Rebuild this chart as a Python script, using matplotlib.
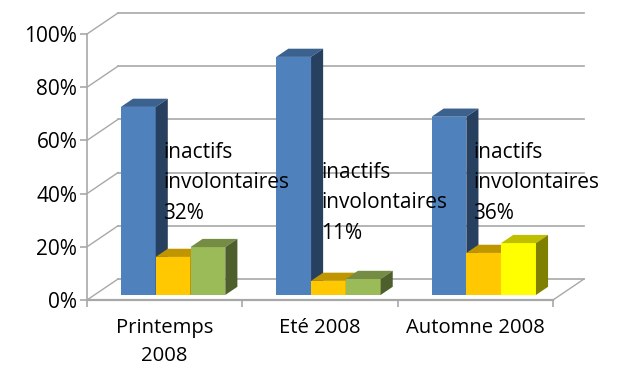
import matplotlib
matplotlib.use("Agg")
import matplotlib.pyplot as plt
import numpy as np

plt.rcParams['font.family'] = ['Open Sans', 'DejaVu Sans']

# Values
categories = ["Printemps\n2008", "Eté 2008", "Automne 2008"]
series_a = [70.7, 89.5, 67]
series_b = [14.3, 5.3, 15.8]
series_c = [18, 6, 19.5]
labels = ["inactifs\ninvolontaires\n32%", "inactifs\ninvolontaires\n11%", "inactifs\ninvolontaires\n36%"]
y_ticks = [0, 20, 40, 60, 80, 100]

# Faces: front, top, side
blue = ("#4F81BD", "#3B618E", "#28405F")
orange = ("#FFC800", "#BF9600", "#806400")
green = ("#9BBB59", "#748C43", "#4E5E2C")
yellow = ("#FFFF00", "#BFBF00", "#808000")
grid = "#A8A8A8"

W, H = 620, 369
fig = plt.figure(figsize=(W/100, H/100), dpi=100, facecolor="white")
# Axes cover the front plane of the fake 3D box
ax = fig.add_axes([87/W, 1-300/H, 466/W, 266/H])
ax.set_xlim(0, 3)
ax.set_ylim(0, 100)

# Depth of the box, in data units (31px right, 21px up)
depth_x = 31/(466/3)
depth_y = 21/(266/100)

def shift(x, y, d):
    return x + d*depth_x, y + d*depth_y

# Back wall, side wall and floor
for v in y_ticks:
    bx0, by0 = shift(0, v, 1)
    bx1, by1 = shift(3, v, 1)
    ax.plot([bx0, bx1], [by0, by1], color=grid, lw=1.2, clip_on=False, zorder=1)
    ax.plot([0, bx0], [v, by0], color=grid, lw=1, clip_on=False, zorder=1)
ax.plot([3, shift(3, 0, 1)[0]], [0, shift(3, 0, 1)[1]], color=grid, lw=1, clip_on=False, zorder=1)

def bar3d(x, v, width, faces, z):
    # front face sits a bit into the box, then top and side go further back
    d0, d1 = 0.24, 0.63
    x0, y0 = shift(x, 0, d0)
    ytop = shift(x, v, d0)[1]
    ax.bar(x0, ytop-y0, width, bottom=y0, align='edge', color=faces[0], lw=0, zorder=z, clip_on=False)
    xa, ya = shift(x, v, d1)
    xb, yb = shift(x + width, 0, d1)
    xf = x0 + width
    ax.fill([x0, xf, xa+width, xa], [ytop, ytop, ya, ya], color=faces[1], lw=0, zorder=z, clip_on=False)
    ax.fill([xf, xb, xb, xf], [y0, yb, ya, ytop], color=faces[2], lw=0, zorder=z, clip_on=False)

bar_w = 34.8/(466/3)
nudge = 1/(466/3)
colors_b = [green, green, yellow]
z = 3
for i in range(len(categories)):
    start = i + 0.5 - 1.5*bar_w + nudge
    bar3d(start, series_a[i], bar_w, blue, z)
    bar3d(start + bar_w, series_b[i], bar_w, orange, z+1)
    bar3d(start + 2*bar_w, series_c[i], bar_w, colors_b[i], z+2)
    z += 3

# Labels sit over the bars
label_x = [0.49, 1.508, 2.488]
label_y = [44, 36.5, 44]
for x, y, t in zip(label_x, label_y, labels):
    ax.text(x, y, t, ha='left', va='center', fontsize=15, linespacing=1.58,
            color="black", zorder=50, clip_on=False)

for s in ['top', 'right']:
    ax.spines[s].set_visible(False)
for s in ['left', 'bottom']:
    ax.spines[s].set_color(grid)
ax.spines['left'].set_linewidth(1.2)
ax.spines['bottom'].set_linewidth(1.6)

ax.set_yticks(y_ticks)
ax.set_yticklabels([f"{v}%" for v in y_ticks], fontsize=15)
ax.set_xticks([0, 1, 2, 3])
ax.set_xticklabels([])
ax.set_xticks([0.5, 1.5, 2.5], minor=True)
ax.set_xticklabels(categories, minor=True, fontsize=14.6, linespacing=1.5)
ax.tick_params(axis='x', which='minor', length=0, pad=13)
ax.tick_params(axis='both', which='major', color=grid, length=5, width=1.2)
ax.tick_params(axis='y', pad=2)

fig.savefig("out.png", dpi=100, facecolor="white")
